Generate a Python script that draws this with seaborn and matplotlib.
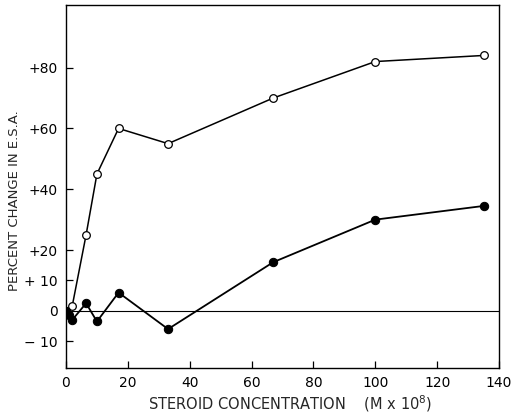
import matplotlib
matplotlib.use("Agg")
import matplotlib.pyplot as plt
import seaborn as sns
import pandas as pd

# Data
open_x = [0, 2, 6.5, 10, 17, 33, 67, 100, 135]
open_y = [0, 1.5, 25, 45, 60, 55, 70, 82, 84]
filled_x = [0, 1, 2, 6.5, 10, 17, 33, 67, 100, 135]
filled_y = [0, -1.5, -3, 2.5, -3.5, 6, -6, 16, 30, 34.5]

x_ticks = [0, 20, 40, 60, 80, 100, 120, 140]
x_ticklabels = ["0", "20", "40", "60", "80", "100", "120", "140"]
y_ticks = [-10, 0, 10, 20, 40, 60, 80]
y_ticklabels = ["\u2212 10", "0", "+ 10", "+20", "+40", "+60", "+80"]

df_open = pd.DataFrame({"x": open_x, "y": open_y})
df_filled = pd.DataFrame({"x": filled_x, "y": filled_y})

sns.set_style("ticks")
plt.rcParams["font.family"] = ["DejaVu Sans"]

fig = plt.figure(figsize=(5.11, 4.15), dpi=100)
ax = fig.add_axes([66 / 511, 1 - 368 / 415, (499 - 66) / 511, (368 - 5) / 415])

ax.axhline(0, color="black", lw=0.8, zorder=1)

sns.lineplot(data=df_open, x="x", y="y", sort=False, ax=ax, color="black",
             lw=1.1, marker="o", markersize=5.5, markerfacecolor="white",
             markeredgecolor="black", markeredgewidth=0.9, zorder=3)
sns.lineplot(data=df_filled, x="x", y="y", sort=False, ax=ax, color="black",
             lw=1.3, marker="o", markersize=6, markerfacecolor="black",
             markeredgecolor="black", zorder=3)

ax.set_xlim(0, 140)
ax.set_ylim(-18.8, 100.6)
ax.set_xticks(x_ticks)
ax.set_xticklabels(x_ticklabels)
ax.set_yticks(y_ticks)
ax.set_yticklabels(y_ticklabels)
ax.tick_params(direction="in", length=5, width=0.9, labelsize=10, colors="black", pad=6)
for s in ax.spines.values():
    s.set_visible(True)
    s.set_color("black")
    s.set_linewidth(1.0)

ax.set_xlabel("STEROID CONCENTRATION    (M x 10$^8$)", fontsize=10.5)
ax.set_ylabel("PERCENT CHANGE IN E.S.A.", fontsize=9.5)
ax.xaxis.set_label_coords(0.517, -0.07)
ax.yaxis.set_label_coords(-0.105, 0.46)

fig.savefig("out.png", dpi=100)
